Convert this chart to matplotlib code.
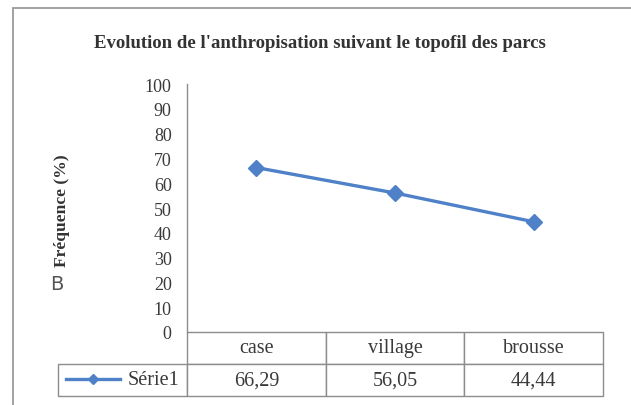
import matplotlib
matplotlib.use("Agg")
import matplotlib.pyplot as plt
from matplotlib.lines import Line2D
from matplotlib.patches import Rectangle

# data
categories = ["case", "village", "brousse"]
serie1 = [66.29, 56.05, 44.44]
serie_name = "Série1"
y_ticks = [0, 10, 20, 30, 40, 50, 60, 70, 80, 90, 100]

title = "Evolution de l'anthropisation suivant le topofil des parcs"
ylabel = "Fréquence (%)"

line_color = "#4F81C9"
text_color = "#3a3a3a"
grid_gray = "#8c8c8c"
serif = ["Liberation Serif", "DejaVu Serif"]
plt.rcParams["font.family"] = serif

fig = plt.figure(figsize=(6.31, 4.06), dpi=100)
W, H = 631, 406

# outer chart frame (only left and top edges are inside the picture)
fig.add_artist(Rectangle((13 / W, -0.1), 1.2, (H - 9) / H + 0.1,
                         transform=fig.transFigure, fill=False,
                         edgecolor="#9a9a9a", lw=1.3))

ax = fig.add_axes([187 / W, (H - 333) / H, (603 - 187) / W, (333 - 85) / H])
x = list(range(len(categories)))
ax.plot(x, serie1, color=line_color, lw=2.4, marker="D", markersize=8.5,
        markerfacecolor=line_color, markeredgecolor=line_color)
ax.set_xlim(-0.5, len(categories) - 0.5)
ax.set_ylim(0, 100)
ax.set_yticks(y_ticks)
ax.set_yticklabels([str(v) for v in y_ticks], fontsize=13, color=text_color)
ax.tick_params(axis="y", length=0, pad=11)
ax.set_xticks([])
for s in ["top", "right", "bottom"]:
    ax.spines[s].set_visible(False)
ax.spines["left"].set_color(grid_gray)
ax.spines["left"].set_linewidth(1.0)

# data table under the axis; bbox covers the 3 value columns,
# the row-label column hangs out on the left
tbl = ax.table(cellText=[[f"{v:.2f}".replace(".", ",") for v in serie1]],
               rowLabels=[serie_name], colLabels=categories,
               cellLoc="center", rowLoc="right",
               colWidths=[1 / 3] * 3,
               bbox=[0, -(397 - 333) / 248, 1, (397 - 333) / 248])
tbl._autoColumns = []
tbl.auto_set_font_size(False)
for (r, c), cell in tbl.get_celld().items():
    if c == -1:
        cell.set_width((187 - 58) / 416)
        cell.PAD = 0.06
    cell.set_edgecolor(grid_gray)
    cell.set_linewidth(1.0)
    cell.set_text_props(fontfamily=serif, fontsize=14.5, color=text_color)

# legend key inside the row label cell
key_y = (H - 380) / H
fig.add_artist(Line2D([66 / W, 120 / W], [key_y] * 2,
                      transform=fig.transFigure, color=line_color, lw=2.4))
fig.add_artist(Line2D([93 / W], [key_y], transform=fig.transFigure,
                      color=line_color, marker="D", markersize=5.5, lw=0))

fig.text(320 / W, (H - 43) / H, title, ha="center", va="center",
         fontweight="bold", fontsize=13.5, color="#333333")
fig.text(62 / W, (H - 211) / H, ylabel, ha="center", va="center",
         rotation=90, fontweight="bold", fontsize=12.6, color="#333333")
fig.text(57 / W, (H - 285) / H, "B", ha="center", va="center",
         family=["DejaVu Sans"], fontsize=14, color="#555555")

fig.savefig("out.png", dpi=100)
